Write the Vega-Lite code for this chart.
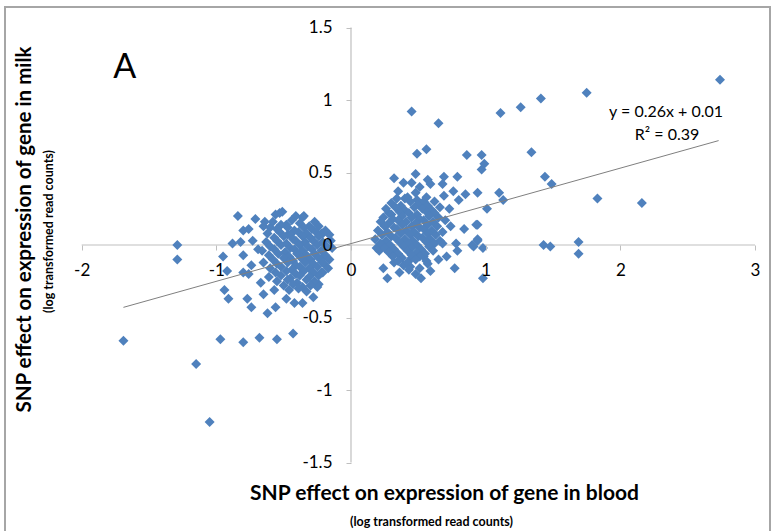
{
  "$schema": "https://vega.github.io/schema/vega-lite/v6.json",
  "width": 765,
  "height": 526,
  "autosize": "none",
  "padding": {"left": 5, "top": 7, "right": 5, "bottom": 0},
  "background": "white",
  "config": {
    "font": "Lato",
    "view": {"stroke": "#a6a6a6", "strokeWidth": 2}
  },
  "datasets": {
    "one": [{}],
    "axlines": [
      {"x": -2, "x2": 3, "y": 0, "y2": 0},
      {"x": 0, "x2": 0, "y": -1.5, "y2": 1.5}
    ],
    "trend": [
      {"x": -1.69, "y": -0.43},
      {"x": 2.73, "y": 0.72}
    ],
    "pts": [
      {"x": -1.29, "y": 0.0}, {"x": -1.29, "y": -0.1}, {"x": -1.69, "y": -0.66}, {"x": -1.15, "y": -0.82},
      {"x": -1.05, "y": -1.22}, {"x": -0.97, "y": -0.65}, {"x": -0.8, "y": -0.67}, {"x": -0.68, "y": -0.64},
      {"x": -0.55, "y": -0.65}, {"x": -0.43, "y": -0.61},
      {"x": -0.84, "y": 0.2}, {"x": -0.71, "y": 0.18}, {"x": -0.64, "y": 0.16}, {"x": -0.56, "y": 0.21},
      {"x": -0.51, "y": 0.23}, {"x": -0.41, "y": 0.2}, {"x": -0.35, "y": 0.2}, {"x": -0.8, "y": 0.1},
      {"x": -0.76, "y": 0.11}, {"x": -0.65, "y": 0.13}, {"x": -0.6, "y": 0.12}, {"x": -0.48, "y": 0.14},
      {"x": -0.47, "y": 0.07}, {"x": -0.21, "y": 0.08}, {"x": -0.16, "y": 0.07}, {"x": -0.88, "y": 0.01},
      {"x": -0.82, "y": 0.02}, {"x": -0.73, "y": 0.03}, {"x": -0.69, "y": -0.03}, {"x": -0.95, "y": -0.08},
      {"x": -0.8, "y": -0.07}, {"x": -0.65, "y": -0.12}, {"x": -0.74, "y": -0.14}, {"x": -0.2, "y": -0.08},
      {"x": -0.2, "y": -0.13}, {"x": -0.92, "y": -0.18}, {"x": -0.94, "y": -0.31}, {"x": -0.91, "y": -0.37},
      {"x": -0.77, "y": -0.37}, {"x": -0.74, "y": -0.43}, {"x": -0.67, "y": -0.26}, {"x": -0.62, "y": -0.47},
      {"x": -0.56, "y": -0.43}, {"x": -0.48, "y": -0.37}, {"x": -0.42, "y": -0.4}, {"x": -0.36, "y": -0.4},
      {"x": -0.28, "y": -0.36}, {"x": -0.25, "y": -0.29}, {"x": -0.22, "y": -0.19}, {"x": -0.57, "y": -0.31},
      {"x": -0.65, "y": -0.34}, {"x": -0.8, "y": -0.19}, {"x": -0.76, "y": -0.2}, {"x": -0.53, "y": 0.22},
      {"x": -0.36, "y": 0.19}, {"x": -0.22, "y": 0.08}, {"x": -0.21, "y": -0.19}, {"x": -0.24, "y": -0.27},
      {"x": -0.58, "y": 0.16}, {"x": -0.52, "y": 0.14}, {"x": -0.44, "y": 0.17}, {"x": -0.38, "y": 0.15},
      {"x": -0.31, "y": 0.13}, {"x": -0.27, "y": 0.16}, {"x": -0.55, "y": 0.11}, {"x": -0.47, "y": 0.12},
      {"x": -0.42, "y": 0.1}, {"x": -0.35, "y": 0.12}, {"x": -0.29, "y": 0.11}, {"x": -0.24, "y": 0.13},
      {"x": -0.62, "y": 0.08}, {"x": -0.53, "y": 0.09}, {"x": -0.45, "y": 0.07}, {"x": -0.39, "y": 0.09},
      {"x": -0.33, "y": 0.08}, {"x": -0.26, "y": 0.09}, {"x": -0.19, "y": 0.1}, {"x": -0.57, "y": 0.05},
      {"x": -0.5, "y": 0.06}, {"x": -0.43, "y": 0.04}, {"x": -0.36, "y": 0.06}, {"x": -0.3, "y": 0.05},
      {"x": -0.24, "y": 0.06}, {"x": -0.63, "y": 0.02}, {"x": -0.55, "y": 0.03}, {"x": -0.48, "y": 0.01},
      {"x": -0.41, "y": 0.03}, {"x": -0.34, "y": 0.02}, {"x": -0.28, "y": 0.03}, {"x": -0.21, "y": 0.02},
      {"x": -0.15, "y": 0.03}, {"x": -0.6, "y": -0.01}, {"x": -0.52, "y": 0.0}, {"x": -0.45, "y": -0.02},
      {"x": -0.38, "y": 0.0}, {"x": -0.32, "y": -0.01}, {"x": -0.25, "y": 0.0}, {"x": -0.18, "y": -0.01},
      {"x": -0.66, "y": -0.04}, {"x": -0.57, "y": -0.03}, {"x": -0.49, "y": -0.05}, {"x": -0.42, "y": -0.03},
      {"x": -0.36, "y": -0.04}, {"x": -0.29, "y": -0.03}, {"x": -0.22, "y": -0.04}, {"x": -0.14, "y": -0.02},
      {"x": -0.61, "y": -0.07}, {"x": -0.54, "y": -0.06}, {"x": -0.46, "y": -0.08}, {"x": -0.4, "y": -0.06},
      {"x": -0.33, "y": -0.07}, {"x": -0.27, "y": -0.06}, {"x": -0.19, "y": -0.07}, {"x": -0.58, "y": -0.1},
      {"x": -0.5, "y": -0.09}, {"x": -0.43, "y": -0.11}, {"x": -0.37, "y": -0.09}, {"x": -0.3, "y": -0.1},
      {"x": -0.24, "y": -0.09}, {"x": -0.16, "y": -0.1}, {"x": -0.55, "y": -0.13}, {"x": -0.47, "y": -0.12},
      {"x": -0.41, "y": -0.14}, {"x": -0.34, "y": -0.12}, {"x": -0.28, "y": -0.13}, {"x": -0.21, "y": -0.12},
      {"x": -0.6, "y": -0.16}, {"x": -0.52, "y": -0.15}, {"x": -0.44, "y": -0.17}, {"x": -0.38, "y": -0.15},
      {"x": -0.31, "y": -0.16}, {"x": -0.25, "y": -0.15}, {"x": -0.17, "y": -0.16}, {"x": -0.56, "y": -0.19},
      {"x": -0.48, "y": -0.18}, {"x": -0.41, "y": -0.2}, {"x": -0.35, "y": -0.18}, {"x": -0.28, "y": -0.19},
      {"x": -0.61, "y": -0.22}, {"x": -0.52, "y": -0.21}, {"x": -0.45, "y": -0.23}, {"x": -0.38, "y": -0.21},
      {"x": -0.31, "y": -0.22}, {"x": -0.24, "y": -0.21}, {"x": -0.55, "y": -0.25}, {"x": -0.47, "y": -0.24},
      {"x": -0.4, "y": -0.26}, {"x": -0.33, "y": -0.24}, {"x": -0.27, "y": -0.25}, {"x": -0.5, "y": -0.28},
      {"x": -0.43, "y": -0.27}, {"x": -0.36, "y": -0.29}, {"x": -0.3, "y": -0.28}, {"x": -0.46, "y": -0.31},
      {"x": -0.39, "y": -0.3}, {"x": -0.33, "y": -0.32},
      {"x": 0.45, "y": 0.92}, {"x": 0.65, "y": 0.84}, {"x": 0.56, "y": 0.66}, {"x": 0.49, "y": 0.63},
      {"x": 0.86, "y": 0.62}, {"x": 0.97, "y": 0.62}, {"x": 0.97, "y": 0.52}, {"x": 0.99, "y": 0.56},
      {"x": 1.11, "y": 0.91}, {"x": 1.26, "y": 0.95}, {"x": 1.41, "y": 1.01}, {"x": 1.75, "y": 1.05},
      {"x": 2.74, "y": 1.14}, {"x": 1.34, "y": 0.64}, {"x": 0.94, "y": 0.36}, {"x": 1.1, "y": 0.36},
      {"x": 1.13, "y": 0.31}, {"x": 1.01, "y": 0.25}, {"x": 1.44, "y": 0.47}, {"x": 1.49, "y": 0.42},
      {"x": 0.94, "y": 0.14}, {"x": 0.94, "y": 0.03}, {"x": 0.91, "y": -0.01}, {"x": 0.98, "y": -0.02},
      {"x": 1.43, "y": 0.0}, {"x": 1.48, "y": -0.01}, {"x": 1.69, "y": 0.02}, {"x": 1.69, "y": -0.06},
      {"x": 0.98, "y": -0.23}, {"x": 1.83, "y": 0.32}, {"x": 2.16, "y": 0.29},
      {"x": 0.32, "y": 0.46}, {"x": 0.39, "y": 0.43}, {"x": 0.45, "y": 0.43}, {"x": 0.48, "y": 0.49},
      {"x": 0.51, "y": 0.4}, {"x": 0.57, "y": 0.45}, {"x": 0.59, "y": 0.42}, {"x": 0.69, "y": 0.47},
      {"x": 0.68, "y": 0.42}, {"x": 0.79, "y": 0.47}, {"x": 0.35, "y": 0.37}, {"x": 0.48, "y": 0.36},
      {"x": 0.69, "y": 0.34}, {"x": 0.76, "y": 0.37}, {"x": 0.85, "y": 0.35}, {"x": 0.8, "y": 0.31},
      {"x": 0.73, "y": 0.25}, {"x": 0.4, "y": 0.32}, {"x": 0.54, "y": 0.3}, {"x": 0.62, "y": 0.3},
      {"x": 0.28, "y": 0.22},
      {"x": 0.19, "y": -0.02}, {"x": 0.21, "y": -0.04}, {"x": 0.24, "y": -0.16}, {"x": 0.27, "y": -0.23},
      {"x": 0.32, "y": -0.12}, {"x": 0.39, "y": -0.14}, {"x": 0.48, "y": -0.2}, {"x": 0.52, "y": -0.23},
      {"x": 0.59, "y": -0.18}, {"x": 0.65, "y": -0.1}, {"x": 0.71, "y": -0.08}, {"x": 0.77, "y": -0.16},
      {"x": 0.79, "y": -0.04}, {"x": 0.78, "y": 0.01}, {"x": 0.68, "y": 0.01}, {"x": 0.74, "y": 0.13},
      {"x": 0.84, "y": 0.11}, {"x": 0.93, "y": 0.14}, {"x": 0.9, "y": 0.0}, {"x": 0.94, "y": 0.04},
      {"x": 0.54, "y": -0.08}, {"x": 0.45, "y": -0.09},
      {"x": 0.34, "y": 0.32}, {"x": 0.42, "y": 0.33}, {"x": 0.49, "y": 0.31}, {"x": 0.56, "y": 0.33},
      {"x": 0.3, "y": 0.29}, {"x": 0.37, "y": 0.27}, {"x": 0.44, "y": 0.3}, {"x": 0.5, "y": 0.28},
      {"x": 0.57, "y": 0.27}, {"x": 0.26, "y": 0.25}, {"x": 0.33, "y": 0.26}, {"x": 0.4, "y": 0.24},
      {"x": 0.47, "y": 0.26}, {"x": 0.53, "y": 0.25}, {"x": 0.6, "y": 0.24}, {"x": 0.66, "y": 0.26},
      {"x": 0.3, "y": 0.21}, {"x": 0.36, "y": 0.23}, {"x": 0.43, "y": 0.22}, {"x": 0.49, "y": 0.21},
      {"x": 0.56, "y": 0.23}, {"x": 0.62, "y": 0.22}, {"x": 0.24, "y": 0.19}, {"x": 0.31, "y": 0.18},
      {"x": 0.38, "y": 0.2}, {"x": 0.45, "y": 0.19}, {"x": 0.51, "y": 0.18}, {"x": 0.58, "y": 0.2},
      {"x": 0.65, "y": 0.19}, {"x": 0.22, "y": 0.16}, {"x": 0.28, "y": 0.15}, {"x": 0.35, "y": 0.17},
      {"x": 0.41, "y": 0.16}, {"x": 0.48, "y": 0.15}, {"x": 0.54, "y": 0.17}, {"x": 0.61, "y": 0.16},
      {"x": 0.7, "y": 0.17}, {"x": 0.25, "y": 0.13}, {"x": 0.32, "y": 0.12}, {"x": 0.38, "y": 0.14},
      {"x": 0.45, "y": 0.13}, {"x": 0.51, "y": 0.12}, {"x": 0.57, "y": 0.14}, {"x": 0.64, "y": 0.13},
      {"x": 0.2, "y": 0.1}, {"x": 0.27, "y": 0.09}, {"x": 0.34, "y": 0.11}, {"x": 0.41, "y": 0.1},
      {"x": 0.47, "y": 0.09}, {"x": 0.54, "y": 0.11}, {"x": 0.6, "y": 0.1}, {"x": 0.68, "y": 0.09},
      {"x": 0.23, "y": 0.07}, {"x": 0.3, "y": 0.06}, {"x": 0.37, "y": 0.08}, {"x": 0.44, "y": 0.07},
      {"x": 0.5, "y": 0.06}, {"x": 0.57, "y": 0.08}, {"x": 0.63, "y": 0.07}, {"x": 0.18, "y": 0.04},
      {"x": 0.26, "y": 0.03}, {"x": 0.33, "y": 0.05}, {"x": 0.4, "y": 0.04}, {"x": 0.46, "y": 0.03},
      {"x": 0.53, "y": 0.05}, {"x": 0.59, "y": 0.04}, {"x": 0.66, "y": 0.03}, {"x": 0.22, "y": 0.01},
      {"x": 0.29, "y": 0.0}, {"x": 0.36, "y": 0.02}, {"x": 0.43, "y": 0.01}, {"x": 0.49, "y": 0.0},
      {"x": 0.56, "y": 0.02}, {"x": 0.62, "y": 0.01}, {"x": 0.25, "y": -0.02}, {"x": 0.32, "y": -0.03},
      {"x": 0.39, "y": -0.01}, {"x": 0.45, "y": -0.02}, {"x": 0.52, "y": -0.03}, {"x": 0.58, "y": -0.01},
      {"x": 0.28, "y": -0.05}, {"x": 0.35, "y": -0.06}, {"x": 0.42, "y": -0.04}, {"x": 0.49, "y": -0.05},
      {"x": 0.55, "y": -0.06}, {"x": 0.61, "y": -0.04}, {"x": 0.31, "y": -0.08}, {"x": 0.38, "y": -0.09},
      {"x": 0.45, "y": -0.07}, {"x": 0.51, "y": -0.08}, {"x": 0.35, "y": -0.11}, {"x": 0.42, "y": -0.12},
      {"x": 0.48, "y": -0.1}, {"x": 0.56, "y": -0.11}, {"x": 0.44, "y": -0.15}, {"x": 0.51, "y": -0.16},
      {"x": 0.43, "y": -0.17}, {"x": 0.36, "y": -0.19}, {"x": 0.57, "y": -0.13}
    ]
  },
  "resolve": {"axis": {"x": "independent", "y": "independent"}},
  "layer": [
    {
      "data": {"name": "axlines"},
      "mark": {"type": "rule", "color": "#bfbfbf", "strokeWidth": 1.2},
      "encoding": {
        "x": {"field": "x", "type": "quantitative",
          "scale": {"domain": [-2.5694, 3.1115], "nice": false, "zero": false},
          "axis": {"orient": "bottom", "domain": false, "ticks": false, "labels": false, "grid": false,
            "title": "SNP effect  on expression of gene in blood", "titleFont": "Lato", "titleFontSize": 21,
            "titleFontWeight": "bold", "titleColor": "#000000", "titleX": 439, "titleY": -40,
            "titleAlign": "center", "titleBaseline": "middle", "titleAngle": 0}},
        "x2": {"field": "x2"},
        "y": {"field": "y", "type": "quantitative",
          "scale": {"domain": [-1.9862, 1.6414], "nice": false, "zero": false},
          "axis": {"orient": "left", "domain": false, "ticks": false, "labels": false, "grid": false,
            "title": "SNP effect on expression of gene in milk", "titleFont": "Lato", "titleFontSize": 20.5,
            "titleFontWeight": "bold", "titleColor": "#000000", "titleX": 19, "titleY": 222,
            "titleAlign": "center", "titleBaseline": "middle", "titleAngle": 270}},
        "y2": {"field": "y2"}
      }
    },
    {
      "data": {"name": "pts"},
      "mark": {"type": "point", "shape": "diamond", "filled": true, "size": 100, "color": "#4F81BD", "opacity": 1},
      "encoding": {
        "x": {"field": "x", "type": "quantitative",
          "scale": {"domain": [-2.5694, 3.1115], "nice": false, "zero": false},
          "axis": {"orient": "bottom", "offset": -288, "values": [-2, -1, 0, 1, 2, 3], "domain": false,
            "grid": false, "tickColor": "#bfbfbf", "tickSize": 5, "labelFont": "Lato", "labelFontSize": 17,
            "labelColor": "#000000", "labelPadding": 12, "labelFlush": false, "labelOverlap": false,
            "labelExpr": "'' + datum.value",
            "title": null, "zindex": 2}},
        "y": {"field": "y", "type": "quantitative",
          "scale": {"domain": [-1.9862, 1.6414], "nice": false, "zero": false},
          "axis": {"orient": "left", "offset": -346, "values": [-1.5, -1, -0.5, 0, 0.5, 1, 1.5], "domain": false,
            "grid": false, "tickColor": "#bfbfbf", "tickSize": 5, "labelFont": "Lato", "labelFontSize": 17,
            "labelColor": "#000000", "labelPadding": 14, "labelFlush": false, "labelOverlap": false,
            "labelExpr": "'' + datum.value",
            "title": null, "zindex": 2}}
      }
    },
    {
      "data": {"name": "trend"},
      "mark": {"type": "line", "color": "#7f7f7f", "strokeWidth": 1},
      "encoding": {
        "x": {"field": "x", "type": "quantitative",
          "scale": {"domain": [-2.5694, 3.1115], "nice": false, "zero": false},
          "axis": {"orient": "bottom", "domain": false, "ticks": false, "labels": false, "grid": false,
            "title": "(log transformed read counts)", "titleFont": "Lato", "titleFontSize": 12.5,
            "titleFontWeight": "bold", "titleColor": "#000000", "titleX": 426, "titleY": -12,
            "titleAlign": "center", "titleBaseline": "middle", "titleAngle": 0}},
        "y": {"field": "y", "type": "quantitative",
          "scale": {"domain": [-1.9862, 1.6414], "nice": false, "zero": false},
          "axis": {"orient": "left", "domain": false, "ticks": false, "labels": false, "grid": false,
            "title": "(log transformed read counts)", "titleFont": "Lato", "titleFontSize": 12.5,
            "titleFontWeight": "bold", "titleColor": "#000000", "titleX": 43, "titleY": 224,
            "titleAlign": "center", "titleBaseline": "middle", "titleAngle": 270}}
      }
    },
    {
      "data": {"name": "one"},
      "mark": {"type": "text", "text": "A", "font": "Lato", "fontSize": 34, "color": "#000000", "align": "center", "baseline": "middle"},
      "encoding": {
        "x": {"datum": -1.68, "type": "quantitative", "scale": {"domain": [-2.5694, 3.1115], "nice": false, "zero": false}, "axis": null},
        "y": {"datum": 1.22, "type": "quantitative", "scale": {"domain": [-1.9862, 1.6414], "nice": false, "zero": false}, "axis": null}
      }
    },
    {
      "data": {"name": "one"},
      "mark": {"type": "text", "text": "y = 0.26x + 0.01", "font": "Lato", "fontSize": 16, "color": "#000000", "align": "center", "baseline": "middle"},
      "encoding": {
        "x": {"datum": 2.34, "type": "quantitative", "scale": {"domain": [-2.5694, 3.1115], "nice": false, "zero": false}, "axis": null},
        "y": {"datum": 0.917, "type": "quantitative", "scale": {"domain": [-1.9862, 1.6414], "nice": false, "zero": false}, "axis": null}
      }
    },
    {
      "data": {"name": "one"},
      "mark": {"type": "text", "text": "R² = 0.39", "font": "Lato", "fontSize": 16, "color": "#000000", "align": "center", "baseline": "middle"},
      "encoding": {
        "x": {"datum": 2.347, "type": "quantitative", "scale": {"domain": [-2.5694, 3.1115], "nice": false, "zero": false}, "axis": null},
        "y": {"datum": 0.759, "type": "quantitative", "scale": {"domain": [-1.9862, 1.6414], "nice": false, "zero": false}, "axis": null}
      }
    }
  ]
}
